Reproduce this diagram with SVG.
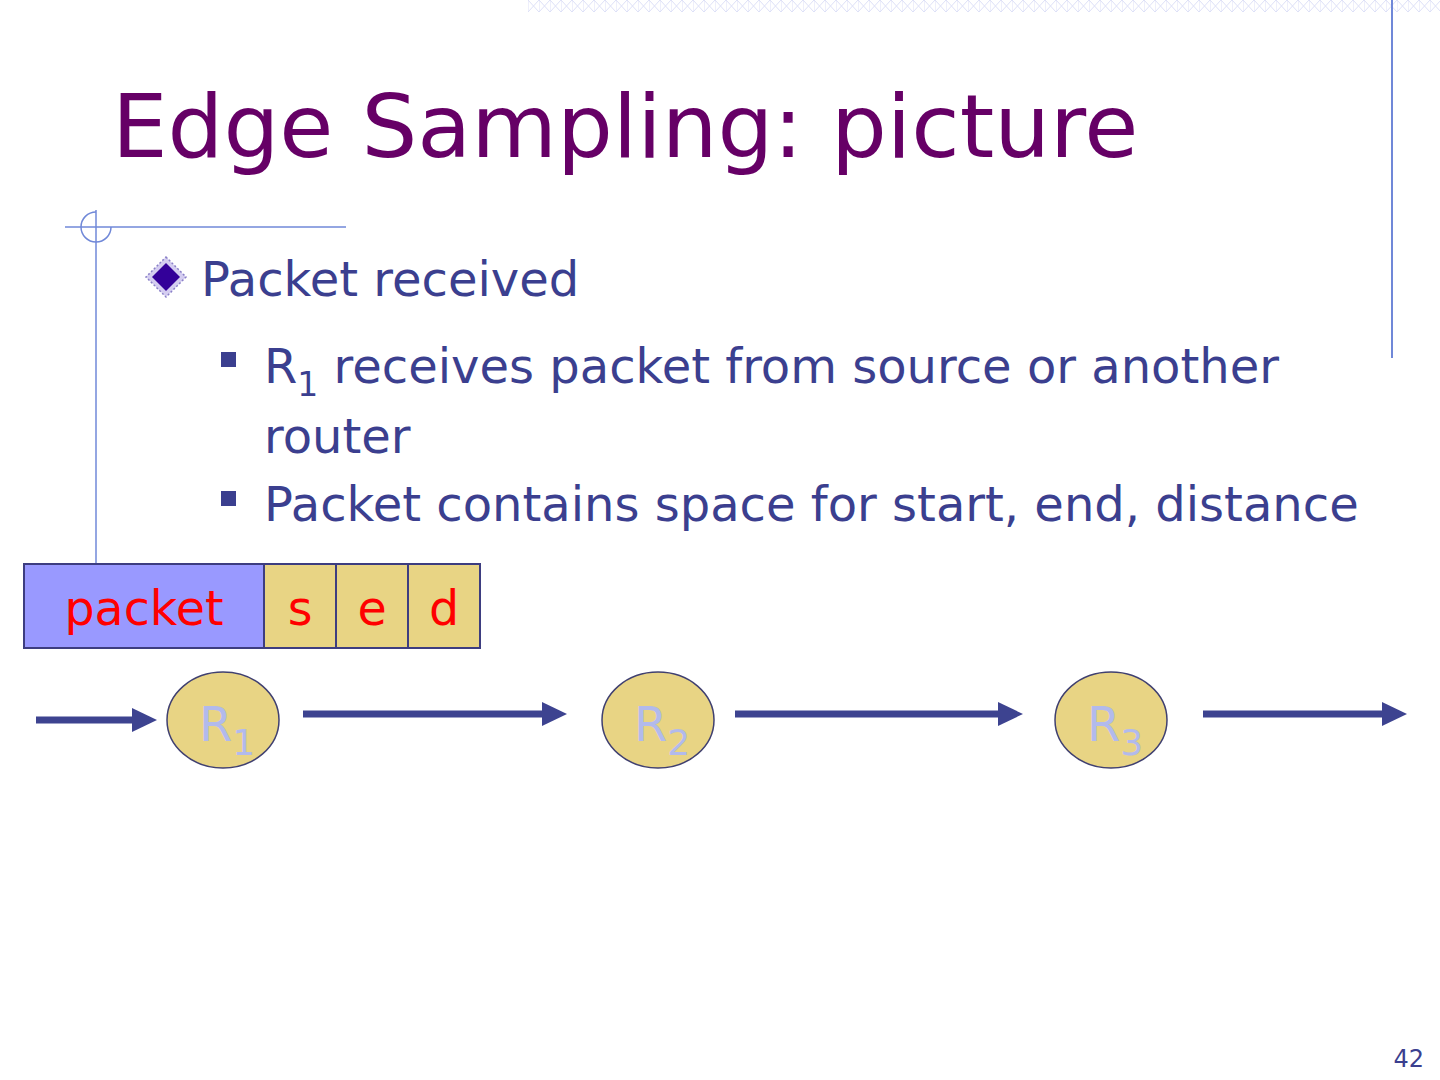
<svg xmlns="http://www.w3.org/2000/svg" width="1440" height="1080" viewBox="0 0 1440 1080">
<style>
text{font-family:"DejaVu Sans","Liberation Sans",sans-serif}
.body{fill:#3b3f8f;font-size:48px}
.deco{stroke:#7088d8;fill:none}
.cell{stroke:#3d3d80;stroke-width:2}
.red{fill:#ff0000;font-size:47.5px;text-anchor:middle}
.router{fill:#e8d484;stroke:#404070;stroke-width:1.5}
.rlab{fill:#b2baec;font-size:48px}
.conn{stroke:#3d4390;stroke-width:7;marker-end:url(#ah)}
</style>
<defs>
<pattern id="xp" x="528" y="0" width="11" height="12" patternUnits="userSpaceOnUse">
<path d="M0 0 L11 12 M11 0 L0 12 M0 0 V12" stroke="#dde0f7" stroke-width="1" fill="none"/>
</pattern>
<marker id="ah" viewBox="0 0 25 24" refX="0" refY="12" markerWidth="25" markerHeight="24" markerUnits="userSpaceOnUse" orient="auto">
<path d="M0 0 L25 12 L0 24 Z" fill="#3d4390"/>
</marker>
</defs>
<rect width="1440" height="1080" fill="#ffffff"/>
<g id="decoration">
<rect x="528" y="0" width="912" height="12" fill="url(#xp)"/>
<line class="deco" x1="1392" y1="0" x2="1392" y2="358" stroke-width="2"/>
<line class="deco" x1="65" y1="227" x2="346" y2="227" stroke-width="1.5"/>
<line class="deco" x1="96" y1="210" x2="96" y2="564" stroke-width="1.5"/>
<path class="deco" d="M96 212 A15 15 0 1 0 111 227" stroke-width="1.5"/>
</g>
<g id="title">
<text x="112" y="157" font-size="88" fill="#660066">Edge Sampling: picture</text>
</g>
<g id="bullets">
<path d="M166 257 L186 277 L166 297 L146 277 Z" fill="#d4cdf0" stroke="#8a80c8" stroke-width="1.5" stroke-dasharray="2 2"/>
<path d="M166 263 L180 277 L166 291 L152 277 Z" fill="#330099"/>
<text class="body" x="201" y="296">Packet received</text>
<rect x="221" y="352" width="15" height="15" fill="#3b3f8f"/>
<text class="body" x="264" y="383">R<tspan font-size="33" dy="13">1</tspan><tspan dy="-13"> receives packet from source or another</tspan></text>
<text class="body" x="264" y="453">router</text>
<rect x="221" y="491" width="15" height="15" fill="#3b3f8f"/>
<text class="body" x="264" y="521">Packet contains space for start, end, distance</text>
</g>
<g id="packet">
<rect class="cell" x="24" y="564" width="240" height="84" fill="#9999ff"/>
<text class="red" x="144" y="625">packet</text>
</g>
<g id="field-s">
<rect class="cell" x="264" y="564" width="72" height="84" fill="#e8d484"/>
<text class="red" x="300" y="625">s</text>
</g>
<g id="field-e">
<rect class="cell" x="336" y="564" width="72" height="84" fill="#e8d484"/>
<text class="red" x="372" y="625">e</text>
</g>
<g id="field-d">
<rect class="cell" x="408" y="564" width="72" height="84" fill="#e8d484"/>
<text class="red" x="444" y="625">d</text>
</g>
<g id="R1">
<ellipse class="router" cx="223" cy="720" rx="56" ry="48"/>
<text class="rlab" x="199" y="741">R<tspan font-size="36" dy="14">1</tspan></text>
</g>
<g id="R2">
<ellipse class="router" cx="658" cy="720" rx="56" ry="48"/>
<text class="rlab" x="634" y="741">R<tspan font-size="36" dy="14">2</tspan></text>
</g>
<g id="R3">
<ellipse class="router" cx="1111" cy="720" rx="56" ry="48"/>
<text class="rlab" x="1087" y="741">R<tspan font-size="36" dy="14">3</tspan></text>
</g>
<g id="connectors">
<line class="conn" x1="36" y1="720" x2="132" y2="720"/>
<line class="conn" x1="303" y1="714" x2="542" y2="714"/>
<line class="conn" x1="735" y1="714" x2="998" y2="714"/>
<line class="conn" x1="1203" y1="714" x2="1382" y2="714"/>
</g>
<text x="1424" y="1067" font-size="24" fill="#3b3f8f" text-anchor="end">42</text>
</svg>
